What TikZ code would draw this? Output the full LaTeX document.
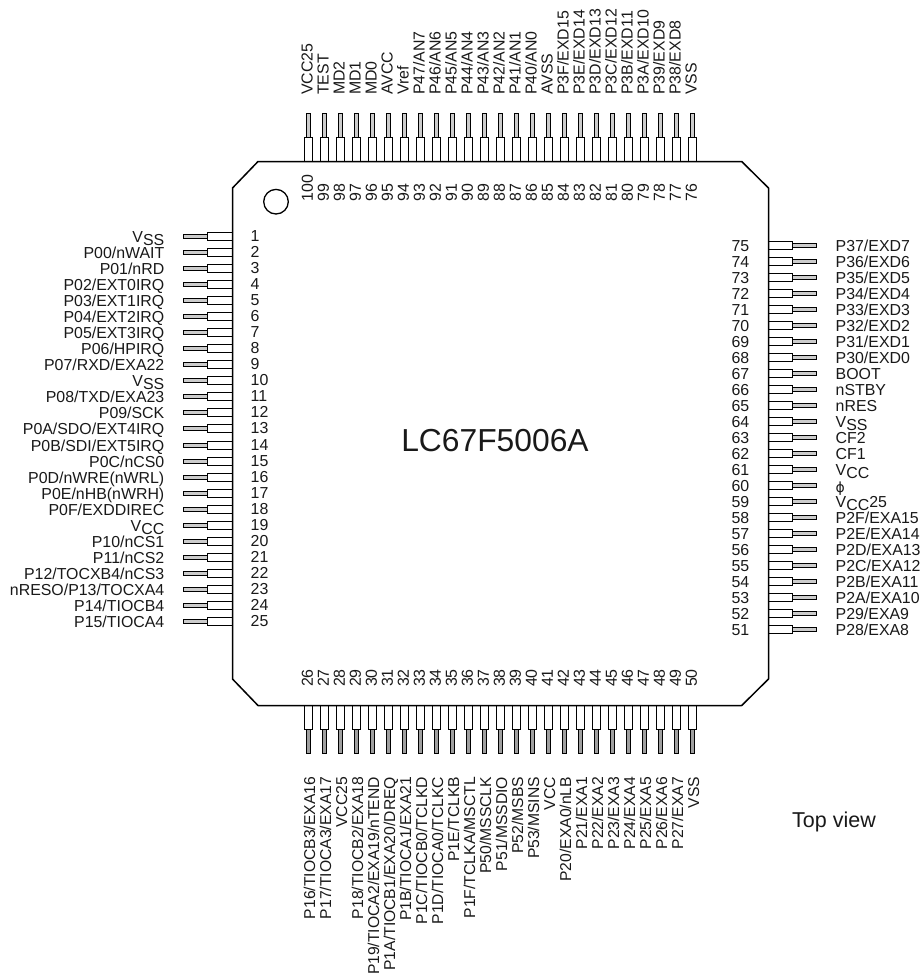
\documentclass[tikz,border=0pt]{standalone}
\usepackage{fontspec}
\setmainfont{Liberation Sans}
\newfontfamily\symfont{DejaVu Sans}
\newcommand{\lowV}[2]{V\raisebox{-3.6pt}{#1}#2}
\tikzset{
  pinbox/.style={draw=black,line width=1.3pt,fill=white},
  pinlead/.style={draw=black,line width=1.4pt,fill=gray!40},
  pinleaddark/.style={draw=black,line width=1.4pt,fill=gray!75},
  pintext/.style={inner sep=0pt,text height=11.4pt,text depth=0pt,text=black!90,font=\fontsize{15.9}{16}\selectfont},
}
\begin{document}
\begin{tikzpicture}[x=1pt,y=-1pt]
    \useasboundingbox (0,0) rectangle (921,975);
    % left side
    \foreach \lab [count=\n from 1, evaluate=\n as \y using round(236+16.04*(\n-1))+.5] in {
      {\lowV{SS}{}},P00/nWAIT,P01/nRD,P02/EXT0IRQ,P03/EXT1IRQ,P04/EXT2IRQ,P05/EXT3IRQ,P06/HPIRQ,P07/RXD/EXA22,
      {\lowV{SS}{}},P08/TXD/EXA23,P09/SCK,P0A/SDO/EXT4IRQ,P0B/SDI/EXT5IRQ,P0C/nCS0,P0D/nWRE(nWRL),P0E/nHB(nWRH),P0F/EXDDIREC,
      {\lowV{CC}{}},P10/nCS1,P11/nCS2,P12/TOCXB4/nCS3,nRESO/P13/TOCXA4,P14/TIOCB4,P15/TIOCA4}{
      \draw[pinlead](183.5,\y-2)rectangle(207.5,\y+2);
      \draw[pinbox](207.5,\y-4)rectangle(232.5,\y+4);
      \node[pintext,anchor=east] (lab\n) at (164.5,\y) {\lab};
      \node[pintext,anchor=west] (num\n) at (250.5,\y-.7) {\n};
    }
    % right side
    \foreach \lab [count=\i from 0, evaluate=\i as \n using int(75-\i), evaluate=\i as \y using 245.5+16*\i] in {
      P37/EXD7,P36/EXD6,P35/EXD5,P34/EXD4,P33/EXD3,P32/EXD2,P31/EXD1,P30/EXD0,BOOT,nSTBY,nRES,
      {\lowV{SS}{}},CF2,CF1,{\lowV{CC}{}},{\raisebox{-1.5pt}{\symfont\fontsize{14}{14}\selectfont ϕ}},{\lowV{CC}{25}},
      P2F/EXA15,P2E/EXA14,P2D/EXA13,P2C/EXA12,P2B/EXA11,P2A/EXA10,P29/EXA9,P28/EXA8}{
      \draw[pinlead](792.5,\y-2)rectangle(816.5,\y+2);
      \draw[pinbox](768.5,\y-4)rectangle(792.5,\y+4);
      \node[pintext,anchor=west] (lab\n) at (835.5,\y) {\lab};
      \node[pintext,anchor=west] (num\n) at (731.3,\y) {\n};
    }
    % top side
    \foreach \lab [count=\i from 0, evaluate=\i as \n using int(100-\i), evaluate=\i as \x using 308.5+16*\i] in {
      VCC25,TEST,MD2,MD1,MD0,AVCC,Vref,P47/AN7,P46/AN6,P45/AN5,P44/AN4,P43/AN3,P42/AN2,P41/AN1,P40/AN0,
      AVSS,P3F/EXD15,P3E/EXD14,P3D/EXD13,P3C/EXD12,P3B/EXD11,P3A/EXD10,P39/EXD9,P38/EXD8,VSS}{
      \draw[pinlead](\x-2,113.5)rectangle(\x+2,137.5);
      \draw[pinbox](\x-4,137.5)rectangle(\x+4,161.5);
      \node[pintext,anchor=west,rotate=90] (lab\n) at (\x-1.5,95) {\lab};
      \node[pintext,anchor=west,rotate=90] (num\n) at (\x-1.3,201.7) {\n};
    }
    % bottom side
    \foreach \lab [count=\n from 26, evaluate=\n as \x using 308.5+16*(\n-26)] in {
      P16/TIOCB3/EXA16,P17/TIOCA3/EXA17,VCC25,P18/TIOCB2/EXA18,P19/TIOCA2/EXA19/nTEND,P1A/TIOCB1/EXA20/DREQ,
      P1B/TIOCA1/EXA21,P1C/TIOCB0/TCLKD,P1D/TIOCA0/TCLKC,P1E/TCLKB,P1F/TCLKA/MSCTL,P50/MSSCLK,P51/MSSDIO,
      P52/MSBS,P53/MSINS,VCC,P20/EXA0/nLB,P21/EXA1,P22/EXA2,P23/EXA3,P24/EXA4,P25/EXA5,P26/EXA6,P27/EXA7,VSS}{
      \draw[pinleaddark](\x-2,729.5)rectangle(\x+2,753.5);
      \draw[pinbox](\x-4,705.5)rectangle(\x+4,729.5);
      \node[pintext,anchor=east,rotate=90,font=\fontsize{15.7}{16}\selectfont] (lab\n) at (\x+1,776.7) {\lab};
      \node[pintext,anchor=east,rotate=90] (num\n) at (\x-1.3,660+9) {\n};
    }
    % package outline
    \draw[line width=1.5pt,line join=round](258,161.5)--(741.7,161.5)--(768.5,188)--(768.5,679)--(741.7,705.5)--(258,705.5)--(232.5,679)--(232.5,188)--cycle;
    \draw[line width=1.3pt](276,201.7)circle(12.3);
    \node[pintext,text height=22.8pt,font=\fontsize{31.8}{32}\selectfont] (part) at (495,440.4) {LC67F5006A};
    \node[pintext,anchor=west,font=\fontsize{21.5}{22}\selectfont,text height=15.4pt] (view) at (792,819.7) {Top view};
\end{tikzpicture}
\end{document}
